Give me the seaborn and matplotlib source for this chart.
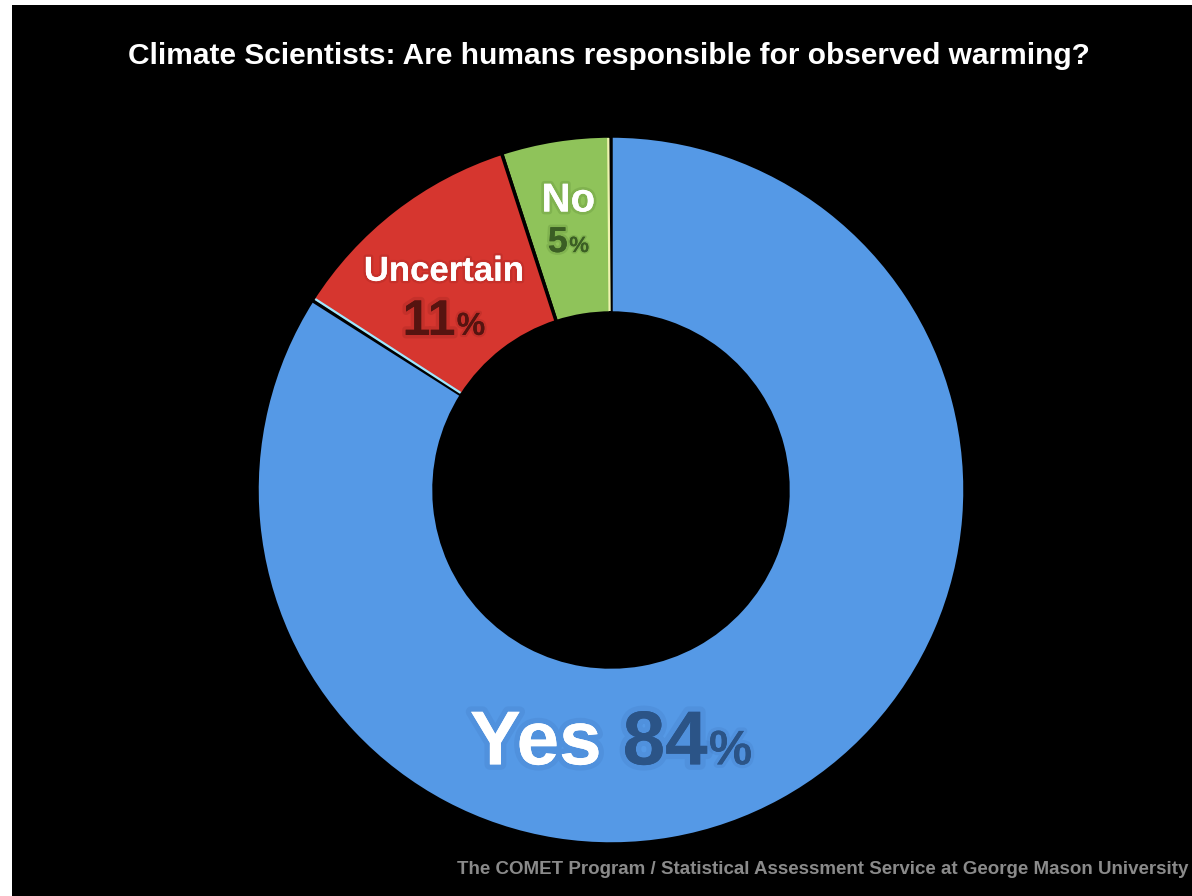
import matplotlib
matplotlib.use("Agg")
import numpy as np
import matplotlib.pyplot as plt
import matplotlib.patheffects as pe
import seaborn as sns
from matplotlib.offsetbox import TextArea, HPacker, VPacker, AnnotationBbox

# ---- data -------------------------------------------------------------
categories = ["No", "Uncertain", "Yes"]
shares = [5, 11, 84]
title = "Climate Scientists: Are humans responsible for observed warming?"
credit = "The COMET Program / Statistical Assessment Service at George Mason University"

# ---- styling ----------------------------------------------------------
slice_colors = sns.color_palette(["#8fc35a", "#d6362f", "#5599e6"])
value_colors = ["#3b5e24", "#561410", "#2b5487"]
glow_colors = ["#3f6a22", "#7a1a16", "#3a6fb5"]

sns.set_theme(style="dark")
plt.rcParams["font.family"] = ["Liberation Sans", "DejaVu Sans"]

W, H = 1192, 896
fig = plt.figure(figsize=(W / 100, H / 100), dpi=100, facecolor="white")
# black canvas with a thin white margin on the left and top
ax = fig.add_axes([12 / W, 0, 1 - 12 / W, 1 - 5 / H])
ax.set_facecolor("black")

cx, cy = 611, H - 490
R = 354
ring = 0.5 * R

wedges, _ = ax.pie(
    shares,
    colors=slice_colors,
    startangle=90,
    counterclock=True,
    radius=R,
    center=(cx, cy),
    frame=True,
    wedgeprops=dict(width=ring, edgecolor="black", linewidth=2.5),
)
ax.set_xlim(12, W)
ax.set_ylim(0, H - 5)
ax.set_xticks([])
ax.set_yticks([])
for s in ax.spines.values():
    s.set_visible(False)

# light rims along two of the slice borders, just inside the neighbouring slice
rim_styles = {0: ("#eef3b0", 0.45), 2: ("#9fe8ff", -0.45)}
for idx, (col, shift) in rim_styles.items():
    t_rim = np.radians(wedges[idx].theta1 + shift)
    rr = np.array([R - ring + 2, R - 2])
    ax.plot(cx + rr * np.cos(t_rim), cy + rr * np.sin(t_rim), color=col,
            lw=1.6, solid_capstyle="butt", zorder=3)

# ---- slice labels -----------------------------------------------------
name_sizes = [29, 25, 55]
value_sizes = [26, 36, 55]
pct_sizes = [16, 23, 35]
label_radius = [0.77, 0.715, 0.72]
label_angle = [None, 131.3, 270]
line_gaps = [4, 8, 0]


def text_area(s, size, color, glow):
    return TextArea(
        s,
        textprops=dict(
            fontsize=size,
            fontweight="bold",
            color=color,
            path_effects=[pe.withStroke(linewidth=size / 7, foreground=glow, alpha=0.18), pe.Normal()],
        ),
    )


for i, (w, cat, val) in enumerate(zip(wedges, categories, shares)):
    ang = label_angle[i]
    if ang is None:
        ang = 0.5 * (w.theta1 + w.theta2)
    r = label_radius[i] * R
    x = cx + r * np.cos(np.radians(ang))
    y = cy + r * np.sin(np.radians(ang))

    name = text_area(cat, name_sizes[i], "white", glow_colors[i])
    num = text_area(f"{val}", value_sizes[i], value_colors[i], glow_colors[i])
    pct = text_area("%", pct_sizes[i], value_colors[i], glow_colors[i])
    value_box = HPacker(children=[num, pct], align="baseline", pad=0, sep=1)
    if cat == "Yes":
        box = HPacker(children=[name, text_area(" ", name_sizes[i], "white", glow_colors[i]), value_box],
                      align="baseline", pad=0, sep=0)
    else:
        box = VPacker(children=[name, value_box], align="center", pad=0, sep=line_gaps[i])
    ab = AnnotationBbox(box, (x, y), xycoords="data", frameon=False,
                        box_alignment=(0.5, 0.5), pad=0)
    ax.add_artist(ab)

# ---- title and credit -------------------------------------------------
fig.text(609 / W, 1 - 56 / H, title, ha="center", va="center",
         fontsize=21.5, fontweight="bold", color="white")
fig.text(1188 / W, 1 - 869 / H, credit, ha="right", va="center",
         fontsize=13.5, fontweight="bold", color="#8a8a8a")

fig.savefig("out.png", dpi=100, facecolor=fig.get_facecolor())
